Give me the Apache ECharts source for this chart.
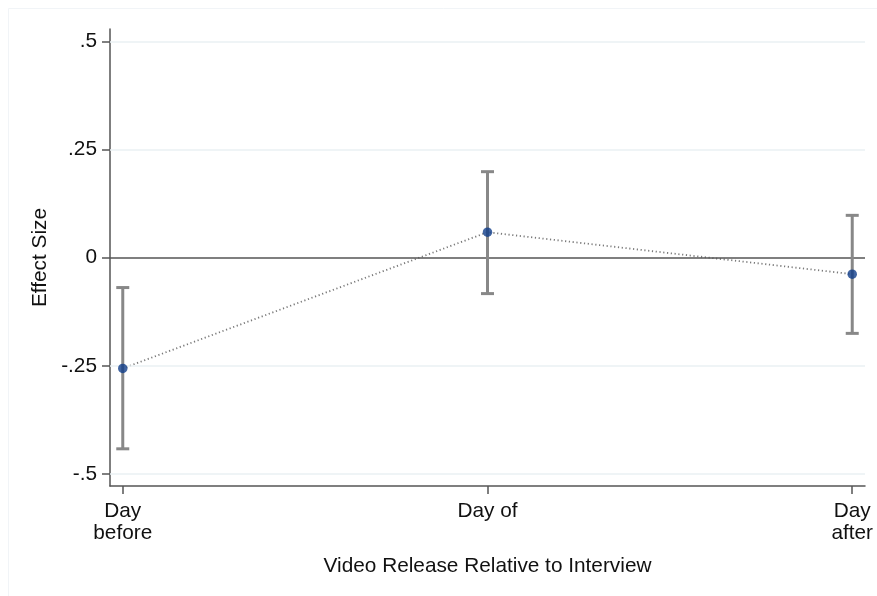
<!DOCTYPE html>
<html>
<head>
<meta charset="utf-8">
<script src="https://cdn.jsdelivr.net/npm/echarts@6/dist/echarts.min.js"></script>
<style>
html,body{margin:0;padding:0;background:#fff;}
#chart{width:877px;height:596px;}
</style>
</head>
<body>
<div id="chart"></div>
<script>
const categories = ['Day\nbefore', 'Day of', 'Day\nafter'];
const estimates = [-0.256, 0.059, -0.038];
const ciLow = [-0.442, -0.083, -0.175];
const ciHigh = [-0.069, 0.199, 0.098];
const yTicks = [-0.5, -0.25, 0, 0.25, 0.5];
const yTickLabels = ['-.5', '-.25', '0', '.25', '.5'];

const xIdx = categories.map((c, i) => i);
const pointData = estimates.map((v, i) => [i, v]);
const ciData = ciLow.map((lo, i) => [i, lo, ciHigh[i]]);

const FONT = 'Liberation Sans, Arial, sans-serif';
const FS = 20.8;
const chart = echarts.init(document.getElementById('chart'), null, {renderer: 'canvas'});
chart.setOption({
  animation: false,
  backgroundColor: '#ffffff',
  graphic: [{
    type: 'rect', shape: {x: 8.5, y: 8.5, width: 900, height: 620},
    style: {fill: 'none', stroke: '#f1f4f7', lineWidth: 1}, silent: true, z: -10
  }],
  grid: {left: 110, right: 12, top: 29, bottom: 110, containLabel: false},
  xAxis: {
    type: 'value', min: -0.035, max: 2.035,
    axisLine: {show: true, onZero: false, lineStyle: {color: '#555555', width: 1.5}},
    axisTick: {show: true, length: 8, lineStyle: {color: '#555555', width: 1.5}, customValues: xIdx},
    axisLabel: {
      customValues: xIdx, margin: 14, color: '#111', fontFamily: FONT, fontSize: FS, lineHeight: 22,
      formatter: v => categories[Math.round(v)]
    },
    splitLine: {show: false},
    name: 'Video Release Relative to Interview', nameLocation: 'middle', nameGap: 70,
    nameTextStyle: {color: '#111', fontFamily: FONT, fontSize: FS}
  },
  yAxis: {
    type: 'value', min: -0.528, max: 0.529,
    axisLine: {show: true, onZero: false, lineStyle: {color: '#555555', width: 1.5}},
    axisTick: {show: true, length: 8, lineStyle: {color: '#555555', width: 1.5}, customValues: yTicks},
    axisLabel: {
      customValues: yTicks, margin: 13, color: '#111', fontFamily: FONT, fontSize: FS,
      padding: [6, 0, 0, 0],
      formatter: v => yTickLabels[yTicks.findIndex(t => Math.abs(t - v) < 1e-9)]
    },
    splitLine: {show: false},
    name: 'Effect Size', nameLocation: 'middle', nameGap: 54, nameRotate: 90,
    nameTextStyle: {color: '#111', fontFamily: FONT, fontSize: FS}
  },
  series: [
    {
      type: 'line', data: [], silent: true,
      markLine: {
        silent: true, symbol: 'none', label: {show: false},
        lineStyle: {color: '#eaf0f3', width: 1.5, type: 'solid'},
        data: yTicks.filter(t => t !== 0).map(t => ({yAxis: t}))
      }
    },
    {
      type: 'line', data: [], silent: true,
      markLine: {
        silent: true, symbol: 'none', label: {show: false},
        lineStyle: {color: '#555555', width: 1.5, type: 'solid'},
        data: [{yAxis: 0}]
      }, z: 3
    },
    {
      type: 'line', data: pointData, z: 4,
      symbol: 'none',
      lineStyle: {color: '#7a7a7a', width: 1.8, type: [1.2, 2.6]}
    },
    {
      type: 'custom', data: ciData, z: 5,
      renderItem: function (params, api) {
        const x = api.value(0);
        const lo = api.coord([x, api.value(1)]);
        const hi = api.coord([x, api.value(2)]);
        const cap = 6.5;
        const style = {stroke: '#888888', lineWidth: 3, fill: 'none'};
        return {
          type: 'group',
          children: [
            {type: 'line', shape: {x1: lo[0], y1: lo[1], x2: hi[0], y2: hi[1]}, style: style},
            {type: 'line', shape: {x1: lo[0] - cap, y1: lo[1], x2: lo[0] + cap, y2: lo[1]}, style: style},
            {type: 'line', shape: {x1: hi[0] - cap, y1: hi[1], x2: hi[0] + cap, y2: hi[1]}, style: style}
          ]
        };
      },
      encode: {x: 0, y: [1, 2]}
    },
    {
      type: 'scatter', data: pointData, z: 6,
      symbol: 'circle', symbolSize: 9.5,
      itemStyle: {color: '#103d8a'}
    }
  ]
});
</script>
</body>
</html>
